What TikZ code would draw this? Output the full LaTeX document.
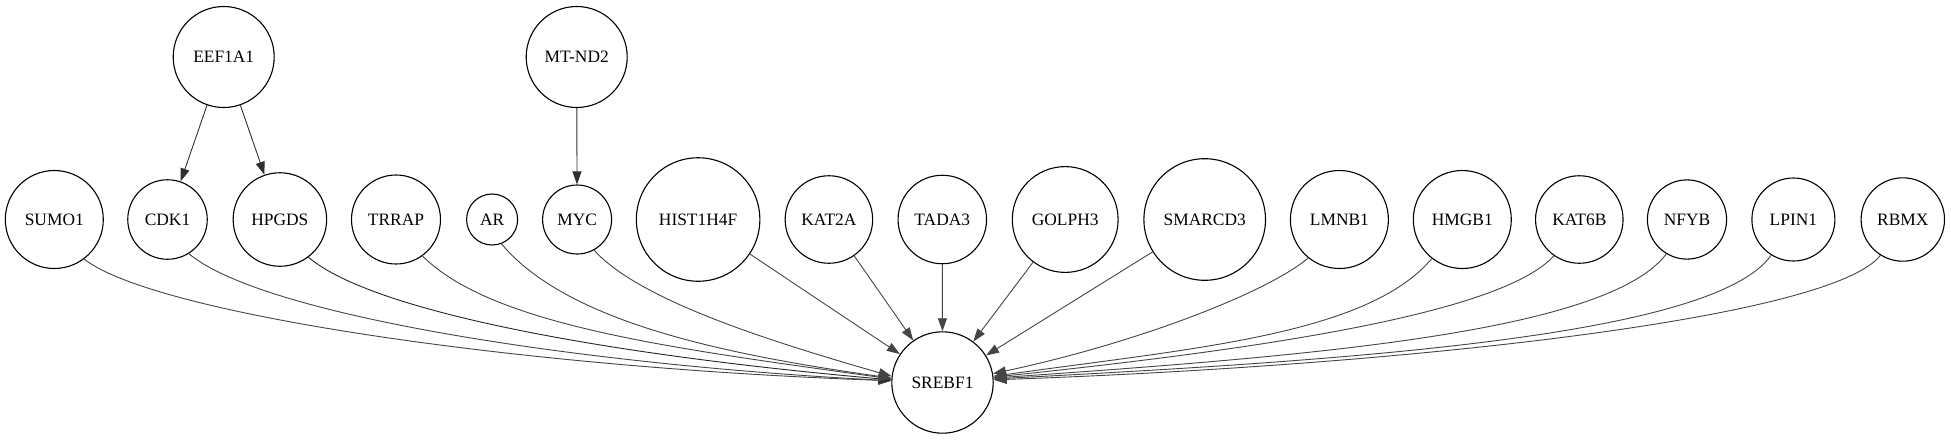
\documentclass[tikz,border=0pt]{standalone}
\usepackage{fontspec}
\setmainfont{Liberation Serif}
\usetikzlibrary{arrows.meta}
\definecolor{ecol}{HTML}{454545}
\definecolor{tcol}{HTML}{303030}
\newcommand{\nfont}{\fontsize{17.4}{20}\selectfont}
\begin{document}
\begin{tikzpicture}[x=1pt,y=1pt,
  nd/.style={circle, draw=black, line width=1.1pt, inner sep=0pt, font=\nfont},
  ed/.style={draw=ecol, line width=0.9pt, -{Triangle[length=13pt,width=9pt]}},
  edtop/.style={draw=tcol, line width=0.9pt, -{Triangle[length=13pt,width=9pt]}}]
\useasboundingbox[fill=white] (0,0) rectangle (1951,-440);
% top row
\node[nd, minimum size=101pt] (EEF1A1) at (223.7,-57) {EEF1A1};
\node[nd, minimum size=101pt] (MTND2) at (576.7,-57) {MT-ND2};
% middle row
\node[nd, minimum size=98pt] (SUMO1) at (54.3,-219.5) {SUMO1};
\node[nd, minimum size=79.5pt] (CDK1) at (167.5,-219.5) {CDK1};
\node[nd, minimum size=93.5pt] (HPGDS) at (279.9,-219.5) {HPGDS};
\node[nd, minimum size=89pt] (TRRAP) at (396,-219.5) {TRRAP};
\node[nd, minimum size=51pt] (AR) at (492.1,-219.5) {AR};
\node[nd, minimum size=69pt] (MYC) at (577.1,-219.5) {MYC};
\node[nd, minimum size=123.5pt] (HIST) at (698.1,-219.5) {HIST1H4F};
\node[nd, minimum size=87.5pt] (KAT2A) at (828.9,-219.5) {KAT2A};
\node[nd, minimum size=88.5pt] (TADA3) at (942.3,-219.5) {TADA3};
\node[nd, minimum size=105.8pt] (GOLPH3) at (1065.2,-219.5) {GOLPH3};
\node[nd, minimum size=121.6pt] (SMARCD3) at (1204.7,-219.5) {SMARCD3};
\node[nd, minimum size=98pt] (LMNB1) at (1339.4,-219.5) {LMNB1};
\node[nd, minimum size=98pt] (HMGB1) at (1462.3,-219.5) {HMGB1};
\node[nd, minimum size=87.5pt] (KAT6B) at (1579.3,-219.5) {KAT6B};
\node[nd, minimum size=79.2pt] (NFYB) at (1687,-219.5) {NFYB};
\node[nd, minimum size=83pt] (LPIN1) at (1793.4,-219.5) {LPIN1};
\node[nd, minimum size=83.4pt] (RBMX) at (1902.8,-219.5) {RBMX};
% bottom
\node[nd, minimum size=101.4pt] (SREBF1) at (942.5,-382.5) {SREBF1};
% top edges
\draw[edtop] (EEF1A1) -- (CDK1);
\draw[edtop] (EEF1A1) -- (HPGDS);
\draw[edtop] (MTND2) -- (MYC);
% straight edges into SREBF1
\draw[ed] (HIST) -- (SREBF1);
\draw[ed] (KAT2A) -- (SREBF1);
\draw[ed] (TADA3) -- (SREBF1);
\draw[ed] (GOLPH3) -- (SREBF1);
\draw[ed] (SMARCD3) -- (SREBF1);
% curved edges from the left
\draw[ed] (SUMO1.-53) .. controls +(-38:90) and +(178:370) .. (SREBF1.178.5);
\draw[ed] (CDK1.-58) .. controls +(-40:95) and +(177:320) .. (SREBF1.178);
\draw[ed, draw=black!85] (HPGDS.-53) .. controls +(-40:90) and +(175:265) .. (SREBF1.177);
\draw[ed] (TRRAP.-54) .. controls +(-45:100) and +(172:215) .. (SREBF1.176);
\draw[ed] (AR.-69) .. controls +(-50:100) and +(172:176) .. (SREBF1.175);
\draw[ed] (MYC.-61) .. controls +(-48:65) and +(164:137) .. (SREBF1.173.5);
% curved edges from the right
\draw[ed] (LMNB1.-129) .. controls +(-140:55) and +(12:145) .. (SREBF1.10);
\draw[ed] (HMGB1.-128.5) .. controls +(-130:100) and +(8:200) .. (SREBF1.7.5);
\draw[ed] (KAT6B.-125) .. controls +(-132:80) and +(6:255) .. (SREBF1.6.5);
\draw[ed] (NFYB.-121) .. controls +(-127:100) and +(4:305) .. (SREBF1.5.5);
\draw[ed] (LPIN1.-122) .. controls +(-125:100) and +(3:355) .. (SREBF1.4.5);
\draw[ed] (RBMX.-122) .. controls +(-128:81) and +(2:406) .. (SREBF1.3.5);
\end{tikzpicture}
\end{document}
